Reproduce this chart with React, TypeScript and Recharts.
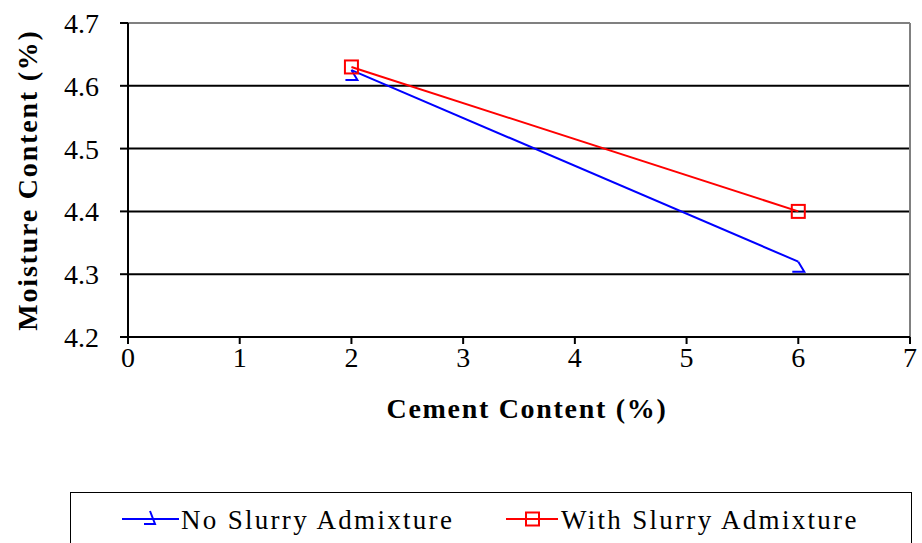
import React from 'react';
import {
    LineChart,
    Line,
    XAxis,
    YAxis,
    CartesianGrid,
    Legend,
    ReferenceLine,
} from 'recharts';

const cementContent = [2, 6];
const noSlurryMoisture = [4.625, 4.32];
const withSlurryMoisture = [4.63, 4.4];
const xTicks = [0, 1, 2, 3, 4, 5, 6, 7];
const yTicks = [4.2, 4.3, 4.4, 4.5, 4.6, 4.7];

const seriesNames = {
    noSlurry: 'No Slurry Admixture',
    withSlurry: 'With Slurry Admixture',
};

const data = cementContent.map((c, i) => ({
    cement: c,
    noSlurry: noSlurryMoisture[i],
    withSlurry: withSlurryMoisture[i],
}));

const FONT = "'Liberation Serif', 'Times New Roman', 'DejaVu Serif', serif";
const BLUE = '#0000ff';
const RED = '#ff0000';

// hook-shaped marker used for the "no slurry" series
const HookDot = (props: any) => {
    const { cx, cy } = props;
    if (cx == null || cy == null) return null;
    return (
        <path
            d={`M${cx},${cy} L${cx + 6},${cy + 10} L${cx - 6},${cy + 10}`}
            stroke={BLUE}
            strokeWidth={2}
            fill="none"
        />
    );
};

const SquareDot = (props: any) => {
    const { cx, cy } = props;
    if (cx == null || cy == null) return null;
    return (
        <rect x={cx - 6.5} y={cy - 6.5} width={13} height={13} stroke={RED} strokeWidth={2} fill="none" />
    );
};

const legendText: React.CSSProperties = {
    position: 'absolute',
    top: 11,
    lineHeight: '32px',
    letterSpacing: 2.3,
};

const renderLegend = () => (
    <div
        style={{
            position: 'relative',
            width: 842,
            height: 60,
            border: '1.5px solid #000',
            boxSizing: 'border-box',
            background: '#fff',
            fontFamily: FONT,
            fontSize: 27,
            color: '#000',
        }}
    >
        <svg width={60} height={30} style={{ position: 'absolute', left: 50, top: 12 }}>
            <line x1={1} y1={14} x2={58} y2={14} stroke={BLUE} strokeWidth={2} />
            <path d="M29,6 L34,19 L23,19" stroke={BLUE} strokeWidth={2} fill="none" />
        </svg>
        <span style={{ ...legendText, left: 110 }}>{seriesNames.noSlurry}</span>
        <svg width={60} height={30} style={{ position: 'absolute', left: 434, top: 12 }}>
            <line x1={1} y1={14} x2={53} y2={14} stroke={RED} strokeWidth={2} />
            <rect x={21} y={7.5} width={13} height={13} stroke={RED} strokeWidth={2} fill="none" />
        </svg>
        <span style={{ ...legendText, left: 490 }}>{seriesNames.withSlurry}</span>
    </div>
);

const tickStyle = { fill: '#000', fontSize: 28, fontFamily: FONT };
const titleStyle = { fill: '#000', fontSize: 28, fontWeight: 'bold', fontFamily: FONT, letterSpacing: 1.7 };

const App: React.FC = () => {
    return (
        <div style={{ position: 'absolute', left: 0, top: 0, width: 922, height: 543, background: '#fff', fontFamily: FONT }}>
            <LineChart
                width={922}
                height={543}
                data={data}
                margin={{ top: 23, right: 12, left: 0, bottom: 0 }}
            >
                <CartesianGrid horizontal vertical={false} stroke="#000" strokeWidth={2} />
                <XAxis
                    type="number"
                    dataKey="cement"
                    domain={[0, 7]}
                    ticks={xTicks}
                    height={206}
                    axisLine={{ stroke: '#000', strokeWidth: 2 }}
                    tickLine={{ stroke: '#000', strokeWidth: 2 }}
                    tickSize={7}
                    tickMargin={3}
                    tick={tickStyle}
                    label={{
                        value: 'Cement Content (%)',
                        position: 'insideTop',
                        offset: 61,
                        dx: 8,
                        style: titleStyle,
                    }}
                />
                <YAxis
                    type="number"
                    domain={[4.2, 4.7]}
                    ticks={yTicks}
                    width={128}
                    axisLine={{ stroke: '#000', strokeWidth: 2 }}
                    tickLine={{ stroke: '#000', strokeWidth: 2 }}
                    tickSize={8}
                    tickMargin={21}
                    tickFormatter={(v: number) => v.toFixed(1)}
                    tick={tickStyle}
                    label={{
                        value: 'Moisture Content (%)',
                        angle: -90,
                        position: 'insideLeft',
                        offset: 27,
                        style: { ...titleStyle, textAnchor: 'middle', letterSpacing: 1.8 },
                    }}
                />
                <ReferenceLine y={4.7} stroke="#808080" strokeWidth={2} />
                <ReferenceLine x={7} stroke="#808080" strokeWidth={2} />
                <Line
                    type="linear"
                    dataKey="noSlurry"
                    name={seriesNames.noSlurry}
                    stroke={BLUE}
                    strokeWidth={2}
                    dot={<HookDot />}
                    activeDot={false}
                    isAnimationActive={false}
                />
                <Line
                    type="linear"
                    dataKey="withSlurry"
                    name={seriesNames.withSlurry}
                    stroke={RED}
                    strokeWidth={2}
                    dot={<SquareDot />}
                    activeDot={false}
                    isAnimationActive={false}
                />
                <Legend
                    layout="horizontal"
                    verticalAlign="middle"
                    align="center"
                    wrapperStyle={{ left: 70, top: 492, width: 842, height: 60 }}
                    content={renderLegend}
                />
            </LineChart>
        </div>
    );
};

export default App;
